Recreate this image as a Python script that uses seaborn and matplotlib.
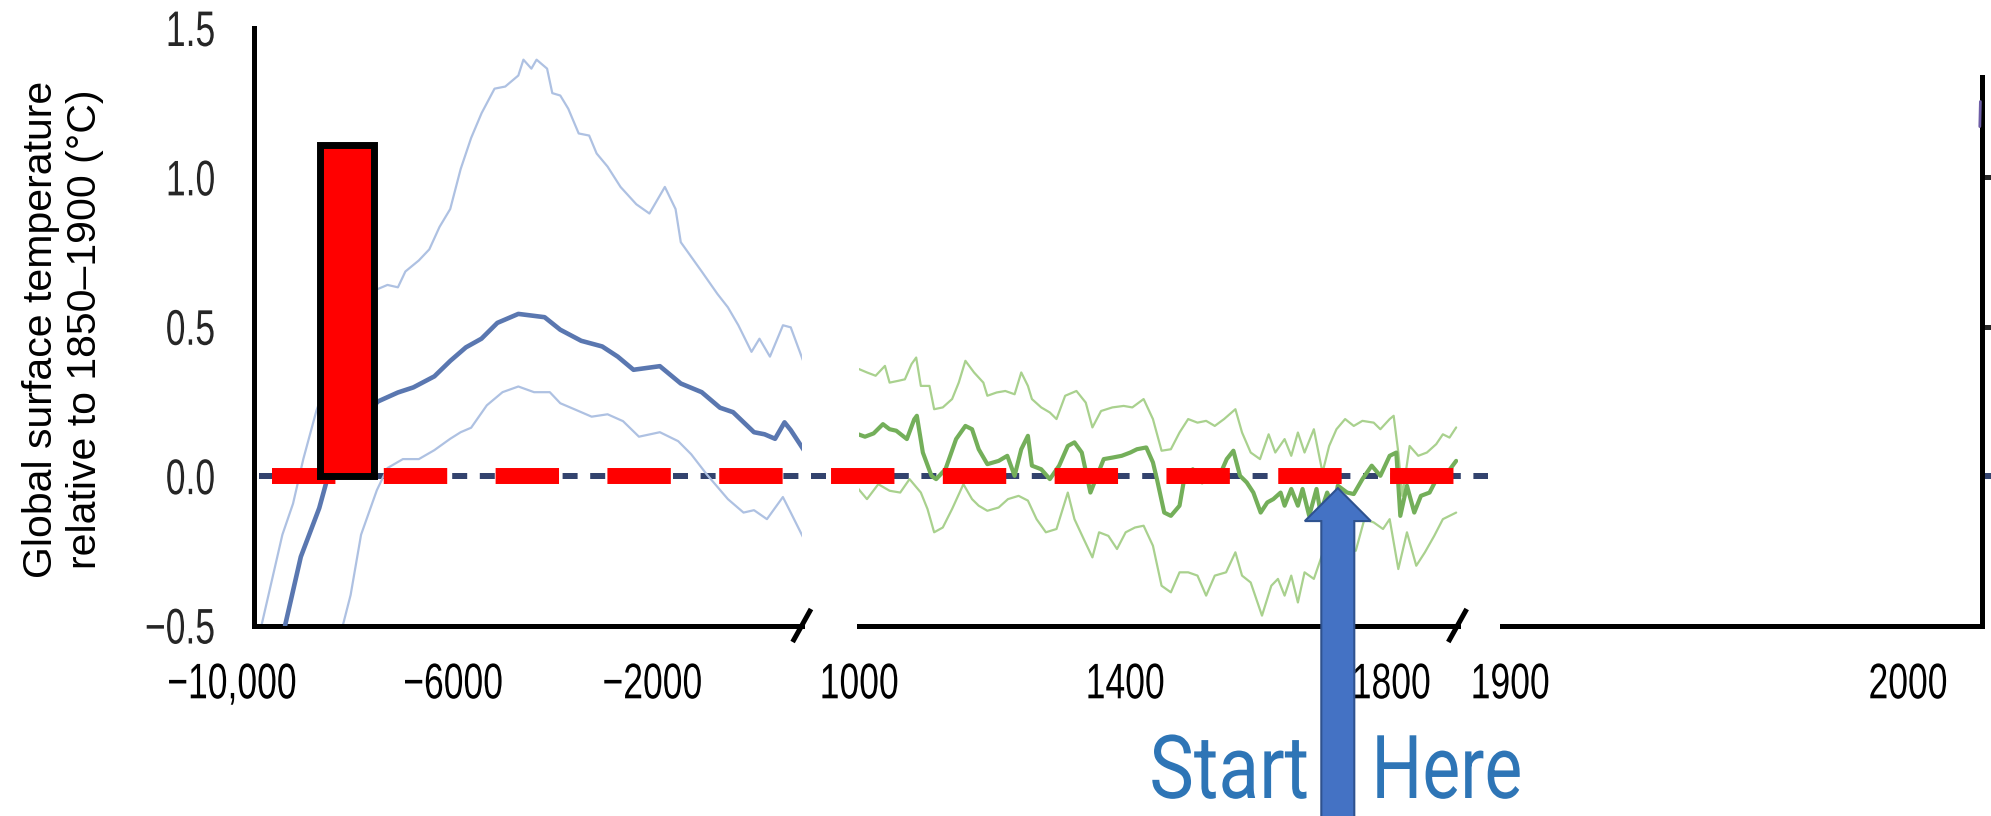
import matplotlib
matplotlib.use("Agg")
import numpy as np
import pandas as pd
import matplotlib.pyplot as plt
import seaborn as sns
from matplotlib.transforms import blended_transform_factory, Affine2D
from matplotlib.patches import Polygon
from matplotlib.patheffects import AbstractPathEffect

# ---------------- data ----------------
# Holocene reconstruction (years CE, negative = BCE)
holo_mid_year = [-9376, -9060, -8690, -8530, -8200, -7800, -7510, -7110, -6800, -6378, -6057,
                 -5745, -5433, -5113, -4692, -4165, -3850, -3430, -3008, -2696, -2380, -1850,
                 -1430, -1010, -643, -380, 40, 253, 463, 653, 778, 1042]
holo_mid_temp = [-0.50, -0.27, -0.107, -0.01, 0.10, 0.20, 0.25, 0.28, 0.297, 0.334, 0.386,
                 0.431, 0.46, 0.513, 0.543, 0.532, 0.49, 0.453, 0.434, 0.40, 0.356, 0.368,
                 0.31, 0.281, 0.229, 0.214, 0.147, 0.14, 0.125, 0.18, 0.154, 0.087]

holo_hi_year = [-9850, -9430, -9216, -9010, -8745, -8300, -7900, -7533, -7320, -7110, -6960,
                -6690, -6480, -6275, -6060, -5850, -5640, -5430, -5170, -4955, -4692, -4590,
                -4430, -4326, -4115, -4010, -3850, -3690, -3480, -3270, -3120, -2900, -2640,
                -2323, -2060, -1750, -1535, -1430, -1010, -695, -484, -274, -10, 150, 360,
                622, 778, 1042]
holo_hi_temp = [-0.50, -0.196, -0.092, 0.057, 0.22, 0.42, 0.56, 0.625, 0.64, 0.632, 0.685,
                0.722, 0.759, 0.834, 0.894, 1.028, 1.132, 1.215, 1.297, 1.304, 1.341, 1.394,
                1.364, 1.394, 1.364, 1.282, 1.274, 1.23, 1.147, 1.14, 1.08, 1.036, 0.968,
                0.91, 0.879, 0.968, 0.894, 0.783, 0.685, 0.61, 0.565, 0.505, 0.416, 0.46, 0.40,
                0.505, 0.498, 0.379]

holo_lo_year = [-8217, -8060, -7850, -7533, -7320, -7010, -6690, -6378, -6060, -5850, -5640,
                -5325, -5010, -4692, -4376, -4060, -3850, -3540, -3220, -2900, -2590, -2270,
                -1850, -1482, -1220, -905, -484, -170, 40, 300, 620, 778, 1042]
holo_lo_temp = [-0.50, -0.398, -0.196, -0.047, 0.027, 0.057, 0.057, 0.087, 0.125, 0.147, 0.162,
                0.237, 0.281, 0.30, 0.281, 0.281, 0.244, 0.222, 0.199, 0.207, 0.184, 0.132,
                0.147, 0.117, 0.073, 0.005, -0.077, -0.122, -0.114, -0.144, -0.07, -0.122, -0.21]

# Last-millennium reconstruction
k2_mid_year = [995, 1009, 1022, 1036, 1046, 1056, 1072, 1083, 1087, 1096, 1109, 1116, 1130, 1146,
               1160, 1170, 1180, 1193, 1210, 1223, 1234, 1244, 1254, 1260, 1274, 1287, 1301, 1314,
               1324, 1335, 1348, 1358, 1368, 1381, 1395, 1408, 1418, 1432, 1442, 1448, 1459, 1469,
               1482, 1489, 1502, 1516, 1529, 1542, 1553, 1563, 1573, 1583, 1593, 1604, 1614, 1623,
               1634, 1640, 1650, 1660, 1667, 1677, 1688, 1694, 1704, 1714, 1720, 1734, 1744, 1757,
               1771, 1784, 1798, 1808, 1814, 1824, 1835, 1845, 1858, 1871, 1885, 1898]
k2_mid_temp = [0.143, 0.132, 0.143, 0.174, 0.157, 0.152, 0.124, 0.19, 0.202, 0.079, 0.001, -0.01,
               0.023, 0.124, 0.168, 0.157, 0.09, 0.04, 0.051, 0.068, 0.001, 0.09, 0.135, 0.035,
               0.023, -0.01, 0.035, 0.101, 0.113, 0.079, -0.055, 0.001, 0.057, 0.062, 0.068, 0.079,
               0.09, 0.096, 0.046, -0.01, -0.122, -0.133, -0.099, -0.01, 0.023, -0.021, 0.012,
               0.001, 0.057, 0.085, 0.001, -0.021, -0.055, -0.122, -0.088, -0.077, -0.055, -0.099,
               -0.043, -0.099, -0.043, -0.133, -0.043, -0.122, -0.055, -0.11, -0.032, -0.055,
               -0.06, -0.01, 0.035, 0.001, 0.068, 0.079, -0.133, -0.032, -0.122, -0.066, -0.055,
               0.001, 0.012, 0.051]

k2_hi_year = [995, 1012, 1025, 1039, 1046, 1059, 1069, 1079, 1086, 1093, 1106, 1113, 1126, 1140,
              1150, 1160, 1173, 1187, 1193, 1207, 1220, 1234, 1244, 1254, 1260, 1274, 1287, 1297,
              1310, 1327, 1341, 1351, 1364, 1381, 1398, 1411, 1428, 1442, 1455, 1469, 1482, 1495,
              1509, 1522, 1535, 1549, 1566, 1576, 1589, 1603, 1616, 1626, 1640, 1650, 1660, 1670,
              1684, 1697, 1707, 1718, 1731, 1744, 1757, 1774, 1784, 1798, 1804, 1811, 1817, 1828,
              1841, 1854, 1868, 1878, 1888, 1898]
k2_hi_temp = [0.363, 0.347, 0.336, 0.369, 0.313, 0.319, 0.324, 0.375, 0.397, 0.302, 0.302, 0.224,
              0.23, 0.258, 0.313, 0.386, 0.347, 0.313, 0.269, 0.28, 0.285, 0.274, 0.347, 0.302,
              0.258, 0.23, 0.213, 0.191, 0.269, 0.285, 0.246, 0.163, 0.218, 0.23, 0.235, 0.23,
              0.258, 0.191, 0.085, 0.09, 0.146, 0.191, 0.179, 0.185, 0.168, 0.191, 0.224, 0.146,
              0.079, 0.057, 0.14, 0.079, 0.124, 0.068, 0.146, 0.079, 0.157, 0.012, 0.101, 0.157,
              0.191, 0.168, 0.185, 0.179, 0.157, 0.191, 0.202, 0.079, -0.066, 0.101, 0.068,
              0.079, 0.107, 0.14, 0.129, 0.163]

k2_lo_year = [995, 1012, 1029, 1046, 1062, 1076, 1093, 1103, 1113, 1126, 1140, 1157, 1170, 1180,
              1193, 1210, 1224, 1240, 1254, 1267, 1281, 1297, 1314, 1324, 1338, 1351, 1361, 1375,
              1388, 1401, 1415, 1428, 1442, 1455, 1469, 1482, 1495, 1509, 1522, 1535, 1552, 1566,
              1576, 1589, 1606, 1620, 1630, 1640, 1650, 1660, 1670, 1684, 1697, 1715, 1730, 1747,
              1760, 1774, 1788, 1798, 1811, 1824, 1838, 1851, 1865, 1878, 1898]
k2_lo_temp = [-0.032, -0.077, -0.027, -0.049, -0.055, -0.01, -0.055, -0.11, -0.188, -0.172,
              -0.11, -0.027, -0.077, -0.099, -0.116, -0.105, -0.077, -0.066, -0.082, -0.144,
              -0.188, -0.177, -0.055, -0.144, -0.211, -0.272, -0.188, -0.2, -0.244, -0.188,
              -0.172, -0.166, -0.233, -0.367, -0.389, -0.322, -0.322, -0.333, -0.4, -0.333,
              -0.322, -0.255, -0.333, -0.356, -0.467, -0.367, -0.344, -0.4, -0.333, -0.423,
              -0.322, -0.344, -0.26, -0.20, -0.24, -0.25, -0.144, -0.155, -0.177, -0.144,
              -0.311, -0.188, -0.3, -0.255, -0.2, -0.144, -0.122]

# tail of the observed record peeking at the right edge
obs_year = [2019.45, 2019.6]
obs_temp = [1.17, 1.254]

# highlighted bar
bar_year = [-8140]
bar_temp = [1.11]
bar_span = 1085

# tick labels
p1_ticks = [-10000, -8000, -6000, -4000, -2000, 0]
p1_labels = ["\u221210,000", "", "\u22126000", "", "\u22122000", ""]
p2_ticks = [1000, 1200, 1400, 1600, 1800]
p2_labels = ["1000", "", "1400", "", "1800"]
p3_ticks = [1900, 1950, 2000]
p3_labels = ["1900", "", "2000"]
y_ticks = [-0.5, 0.0, 0.5, 1.0, 1.5]
y_labels = ["\u22120.5", "0.0", "0.5", "1.0", "1.5"]

ylabel = "Global surface temperature\nrelative to 1850\u20131900 (\u00b0C)"
note_left, note_right = "Start", "Here"
arrow_tip = (1720, -0.04)


# ---------------- helpers ----------------
class Squeeze(AbstractPathEffect):
    """Draw text horizontally condensed (keeps it a Text artist)."""

    def __init__(self, sx, anchor="center", dx=0.0):
        super().__init__()
        self.sx, self.anchor, self.dx = sx, anchor, dx

    def draw_path(self, renderer, gc, tpath, affine, rgbFace=None):
        ext = tpath.get_extents()
        if self.anchor == "left":
            cx = ext.x0
        elif self.anchor == "right":
            cx = ext.x1
        else:
            cx = 0.5 * (ext.x0 + ext.x1)
        pre = Affine2D().translate(-cx, 0).scale(self.sx, 1.0).translate(cx, 0)
        post = Affine2D().translate(self.dx, 0)
        renderer.draw_path(gc, tpath, pre + affine + post, rgbFace)


# ---------------- style ----------------
sns.set_style("white")
plt.rcParams["font.family"] = ["Liberation Sans", "DejaVu Sans"]
TICK_FS = 36
SX = 0.71

W, H = 1991, 816
fig = plt.figure(figsize=(W / 100, H / 100), dpi=100, facecolor="white")

y_top, y_bot = 28.0, 625.5


def rect(l, r):
    return [l / W, (H - y_bot) / H, (r - l) / W, (y_bot - y_top) / H]


ax3 = fig.add_axes(rect(1502, 1982), zorder=1)
ax2 = fig.add_axes(rect(859, 1457.5), zorder=2)
ax1 = fig.add_axes(rect(254, 801.8), zorder=3)

LW_SP = 3.6
for ax in (ax1, ax2, ax3):
    ax.set_facecolor("none")
    ax.set_ylim(-0.5, 1.5)
    for s in ax.spines.values():
        s.set_color("black")
        s.set_linewidth(LW_SP)
        s.set_visible(False)
    ax.spines["bottom"].set_visible(True)
    ax.tick_params(axis="x", direction="out", length=14, width=LW_SP, pad=12.5,
                   color="black", labelcolor="black", labelsize=TICK_FS)
    ax.grid(False)

ax1.set_xlim(-10000, 1000)
ax2.set_xlim(1000, 1900)
ax3.set_xlim(1900, 2020)

# y axes
ax1.spines["left"].set_visible(True)
ax1.set_yticks(y_ticks)
ax1.set_yticklabels(y_labels)
ax1.tick_params(axis="y", direction="out", length=9.4, width=LW_SP, pad=18,
                color="black", labelsize=TICK_FS)
ax2.set_yticks([])
ax3.spines["right"].set_visible(True)
ax3.spines["right"].set_bounds(-0.5, 1.336)
ax3.yaxis.tick_right()
ax3.set_yticks([0.0, 0.5, 1.0])
ax3.tick_params(axis="y", direction="out", length=10, width=LW_SP, labelright=False)

label_shift = {"\u221210,000": -22, "1900": 8, "2000": 6}
for ax, t, l in ((ax1, p1_ticks, p1_labels), (ax2, p2_ticks, p2_labels), (ax3, p3_ticks, p3_labels)):
    ax.set_xticks(t)
    ax.set_xticklabels(l)
    for lab in ax.get_xticklabels():
        lab.set_path_effects([Squeeze(SX, "center", label_shift.get(lab.get_text(), 0))])
for lab in ax1.get_yticklabels():
    lab.set_path_effects([Squeeze(SX, "right")])

# ---------------- curves ----------------
blue_dark, blue_light = "#5A77B0", "#AEC1E2"
green_dark, green_light = "#74AF5A", "#A9D18E"


def line(ax, xs, ys, color, lw, z):
    df = pd.DataFrame({"year": xs, "temp": ys})
    sns.lineplot(data=df, x="year", y="temp", ax=ax, color=color, linewidth=lw,
                 estimator=None, sort=False, legend=False, zorder=z)


line(ax1, holo_hi_year, holo_hi_temp, blue_light, 1.6, 2)
line(ax1, holo_lo_year, holo_lo_temp, blue_light, 1.6, 2)
line(ax1, holo_mid_year, holo_mid_temp, blue_dark, 3.3, 3)
line(ax2, k2_hi_year, k2_hi_temp, green_light, 1.6, 2)
line(ax2, k2_lo_year, k2_lo_temp, green_light, 1.6, 2)
line(ax2, k2_mid_year, k2_mid_temp, green_dark, 3.0, 3)
line(ax3, obs_year, obs_temp, "#6E5EA6", 2.0, 3)

for ax in (ax1, ax2, ax3):
    ax.set_xlabel("")
    ax.set_ylabel("")

# zero reference lines
navy = "#33436E"
tr3 = blended_transform_factory(fig.transFigure, ax3.transData)
ax3.plot([259 / W, 1488 / W], [0, 0], transform=tr3, color=navy, lw=4.32,
         dashes=(2.5, 2.1), dash_capstyle="butt", clip_on=False, zorder=1)
ax3.plot([1983 / W, 1.0], [0, 0], transform=tr3, color=navy, lw=4.32,
         solid_capstyle="butt", clip_on=False, zorder=1)
tr1 = blended_transform_factory(fig.transFigure, ax1.transData)
ax1.plot([271.7 / W, 1455 / W], [0, 0], transform=tr1, color="#FF0000", lw=11.5,
         dashes=(3.97, 3.03), dash_capstyle="butt", clip_on=False, zorder=5)

# highlighted bar
ax1.bar(bar_year, bar_temp, width=bar_span, color="#FF0000", edgecolor="black",
        linewidth=5.0, zorder=6)

# axis-break slashes
for ax, wpx in ((ax1, 801.8 - 254), (ax2, 1457.5 - 859)):
    dx, dy = 9.2 / wpx, 16.5 / (y_bot - y_top)
    ax.plot([1 - dx, 1 + dx], [-dy, dy], transform=ax.transAxes, color="black",
            lw=LW_SP, solid_capstyle="butt", clip_on=False, zorder=7)

# y label
fig.text(63 / W, (H - 329) / H, ylabel, rotation=90, ha="center", va="center",
         fontsize=29.5, linespacing=1.22, color="black", multialignment="center")

# ---------------- arrow annotation ----------------
tx, ty = ax2.transData.transform(arrow_tip)
hw, hl, sw = 33.0, 33.0, 16.5
verts_disp = [(tx, ty), (tx + hw, ty - hl), (tx + sw, ty - hl), (tx + sw, -5),
              (tx - sw, -5), (tx - sw, ty - hl), (tx - hw, ty - hl)]
verts = fig.transFigure.inverted().transform(verts_disp)
arrow = Polygon(verts, closed=True, facecolor="#4472C4", edgecolor="#2F528F",
                linewidth=1.5, transform=fig.transFigure, zorder=20)
fig.add_artist(arrow)

t1 = fig.text(1310 / W, (H - 798) / H, note_left, ha="right", va="baseline", fontsize=63.5,
              color="#2E75B6", family=["Roboto", "Liberation Sans"], zorder=21)
t2 = fig.text(1370 / W, (H - 798) / H, note_right, ha="left", va="baseline", fontsize=63.5,
              color="#2E75B6", family=["Roboto", "Liberation Sans"], zorder=21)
t1.set_path_effects([Squeeze(0.85, "right")])
t2.set_path_effects([Squeeze(0.81, "left")])

fig.savefig("out.png", dpi=100, facecolor="white")
